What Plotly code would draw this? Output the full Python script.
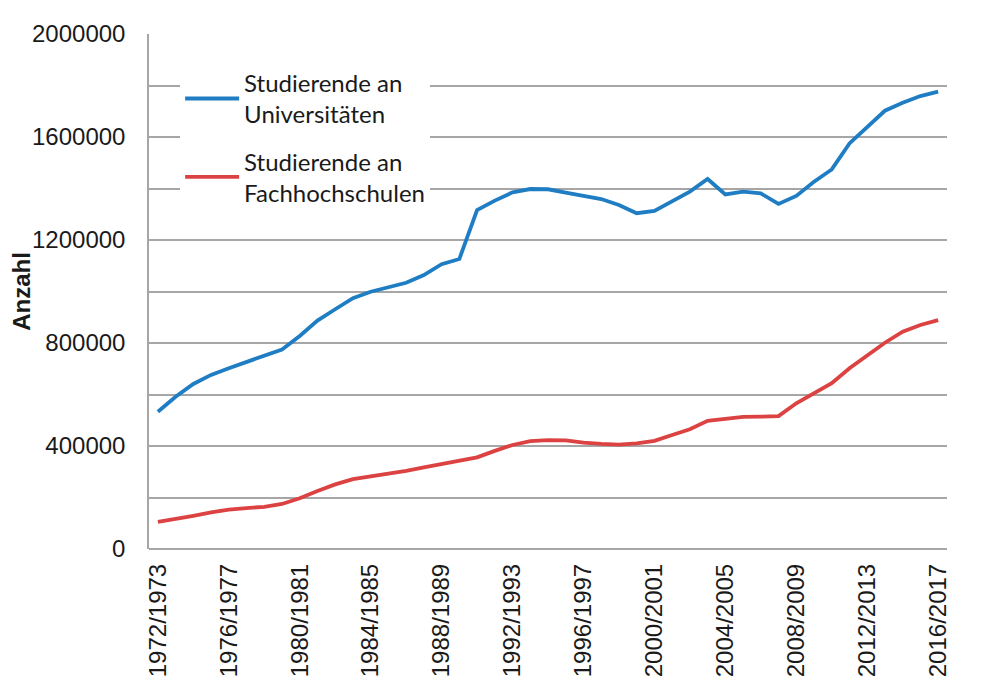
import plotly.graph_objects as go

# Studienjahre (Wintersemester) 1972/1973 bis 2016/2017
semester = [f"{y}/{y + 1}" for y in range(1972, 2017)]

universitaeten = [
    533000, 591000, 641000, 676000, 702000, 727000, 752000, 775000, 827000, 887000,
    931000, 974000, 999000, 1016000, 1034000, 1064000, 1106000, 1126000, 1316000, 1353000,
    1385000, 1398000, 1397000, 1384000, 1372000, 1359000, 1336000, 1304000, 1313000, 1349000,
    1388000, 1437000, 1377000, 1388000, 1381000, 1340000, 1371000, 1426000, 1474000, 1575000,
    1640000, 1702000, 1733000, 1759000, 1776000,
]

fachhochschulen = [
    105000, 116000, 129000, 142000, 153000, 159000, 164000, 175000, 197000, 225000,
    251000, 271000, 282000, 291000, 303000, 317000, 330000, 343000, 356000, 381000,
    404000, 419000, 423000, 422000, 413000, 408000, 405000, 410000, 420000, 443000,
    465000, 498000, 507000, 513000, 514000, 516000, 566000, 605000, 644000, 702000,
    750000, 801000, 844000, 870000, 889000,
]

tick_labels = semester[::4]
y_ticks = [0, 400000, 800000, 1200000, 1600000, 2000000]

grid = "#a6a6a6"

fig = go.Figure()
fig.add_trace(go.Scatter(
    x=semester, y=universitaeten, mode="lines",
    name="Studierende an<br>Universitäten", legendgroup="u",
    line=dict(color="#1f7dc3", width=3.8),
))
fig.add_trace(go.Scatter(
    x=semester, y=fachhochschulen, mode="lines",
    name="Studierende an<br>Fachhochschulen", legendgroup="f",
    line=dict(color="#dc4242", width=3.8),
))

# page body has an 8px margin, so the figure is placed 8px in from the top left
fig.update_layout(
    width=1000, height=695,
    margin=dict(l=141, r=61, t=26, b=154),
    plot_bgcolor="white", paper_bgcolor="white",
    font=dict(family="Liberation Sans, Arial", size=24, color="#1a1a1a"),
    showlegend=True,
    legend=dict(
        x=0.039, y=0.948, xanchor="left", yanchor="top",
        bgcolor="white", tracegroupgap=13, itemwidth=54,
        font=dict(family="Lato, Open Sans", size=24, color="#1a1a1a"),
    ),
)

fig.update_xaxes(
    type="category", range=[-0.5, 44.5], automargin=False,
    tickmode="array", tickvals=tick_labels, ticktext=tick_labels,
    tickangle=-90, ticks="", ticklabelstandoff=9,
    showgrid=False, showline=False, zeroline=False,
    tickfont=dict(size=24),
)

fig.update_yaxes(
    range=[0, 2000000], automargin=False,
    tickmode="array", tickvals=y_ticks, tickformat="d",
    showgrid=True, gridcolor=grid, gridwidth=1.5,
    minor=dict(dtick=200000, showgrid=True, gridcolor=grid, gridwidth=1.5),
    showline=True, linecolor=grid, linewidth=1.5,
    zeroline=True, zerolinecolor=grid, zerolinewidth=1.5,
    ticks="", ticklabelstandoff=17,
    title=dict(text="<b>Anzahl</b>", font=dict(size=24), standoff=28),
)

fig.write_html("out.html")
